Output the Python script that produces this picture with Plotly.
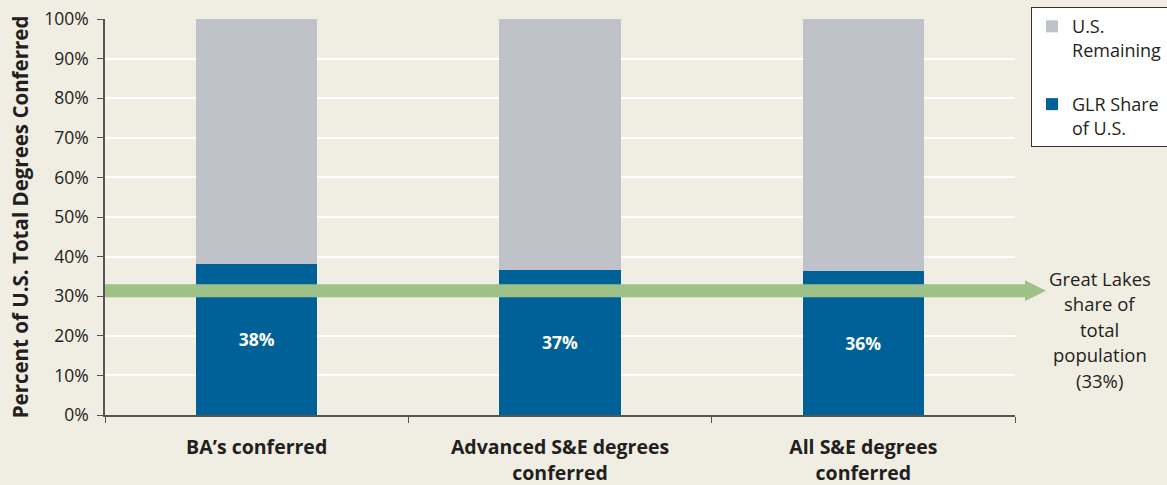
import plotly.graph_objects as go

categories = ["BA’s conferred", "Advanced S&E degrees<br>conferred", "All S&E degrees<br>conferred"]
glr_share = [38.2, 36.7, 36.4]
glr_labels = ["38%", "37%", "36%"]
us_remaining = [100 - v for v in glr_share]
population_line = 31.4  # drawn position of the population-share arrow
note_lines = ["Great Lakes", "share of", "total", "population", "(33%)"]
y_ticks = [0, 10, 20, 30, 40, 50, 60, 70, 80, 90, 100]
y_tick_labels = [f"{t}%" for t in y_ticks]

BG = "#F0EDE3"
BLUE = "#006199"
GREY = "#BFC3C9"
GREEN = "#9DC187"
TXT = "#231F20"
FONT = "Open Sans"

fig = go.Figure()
fig.add_trace(go.Bar(
    x=categories, y=glr_share, name="GLR Share<br>of U.S.", legendgroup="g1", legendrank=2,
    marker=dict(color=BLUE, line=dict(width=0)),
    text=glr_labels, textposition="inside", insidetextanchor="middle",
    textfont=dict(color="white", size=17.5, family=FONT, weight="bold"),
    width=0.4,
))
fig.add_trace(go.Bar(
    x=categories, y=us_remaining, name="U.S.<br>Remaining", legendgroup="g2", legendrank=1,
    marker=dict(color=GREY, line=dict(width=0)),
    width=0.4, hoverinfo="skip",
))

# Arrow shaft
fig.add_shape(type="line", xref="paper", yref="y",
              x0=0, x1=1.012, y0=population_line, y1=population_line,
              line=dict(color=GREEN, width=13), layer="above")
# Arrow head
fig.add_shape(type="path", xref="paper", yref="y",
              path=(f"M 1.011 {population_line + 2.6} L 1.034 {population_line} "
                    f"L 1.011 {population_line - 2.6} Z"),
              fillcolor=GREEN, line=dict(width=0), layer="above")

# Note text, one annotation per line for the reference's line spacing
plot_h = 485 - 19 - 70
line_gap = 25.5 / plot_h
first_y = (415 - 278) / plot_h
for i, line in enumerate(note_lines):
    fig.add_annotation(
        xref="paper", yref="paper", x=1.0934, y=first_y - i * line_gap,
        xanchor="center", yanchor="middle", text=line, showarrow=False,
        font=dict(family=FONT, size=18.5, color=TXT),
    )

fig.update_layout(
    width=1167, height=485,
    barmode="stack",
    paper_bgcolor=BG, plot_bgcolor=BG,
    margin=dict(l=105, r=152, t=19, b=70, autoexpand=False),
    font=dict(family=FONT, size=17, color=TXT),
    showlegend=True,
    legend=dict(
        x=1.0176, y=1.03, xanchor="left", yanchor="top",
        bgcolor="white", bordercolor="#333333", borderwidth=1,
        font=dict(family=FONT, size=18, color=TXT),
        itemsizing="constant", tracegroupgap=28, valign="top",
        traceorder="grouped",
    ),
    xaxis=dict(
        showgrid=False, showline=True, linecolor="#555555", linewidth=1.5,
        ticks="outside", ticklen=6, tickcolor="#555555", tickson="boundaries",
        tickfont=dict(family=FONT, size=19.5, color=TXT, weight="bold"),
        ticklabelstandoff=14, automargin=False,
    ),
    yaxis=dict(
        range=[0, 100], tickvals=y_ticks, ticktext=y_tick_labels,
        showgrid=True, gridcolor="white", gridwidth=1.5,
        showline=True, linecolor="#555555", linewidth=1.5,
        ticks="outside", ticklen=6, tickcolor="#555555",
        tickfont=dict(family=FONT, size=17.5, color=TXT),
        ticklabelstandoff=5,
        zeroline=False, automargin=False,
        title=dict(text="<b>Percent of U.S. Total Degrees Conferred</b>",
                   font=dict(family=FONT, size=20.5, color=TXT), standoff=10),
    ),
)

fig.write_html("out.html", config={"displayModeBar": False},
               post_script="document.body.style.margin='0';document.body.style.overflow='hidden';")
